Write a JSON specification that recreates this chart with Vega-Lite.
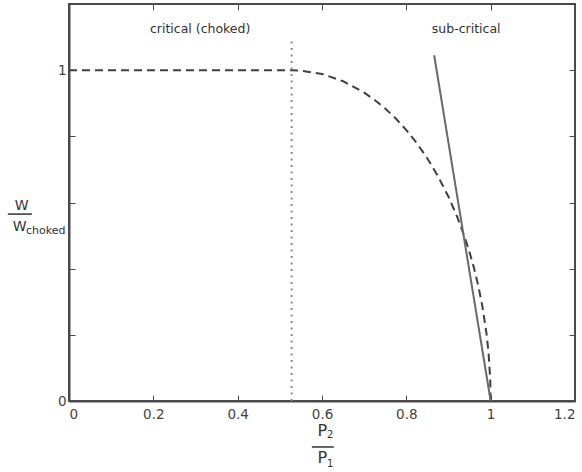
{
  "$schema": "https://vega.github.io/schema/vega-lite/v6.json",
  "autosize": {"type": "none"},
  "width": 506,
  "height": 397,
  "padding": {"left": 69, "top": 4, "right": 7, "bottom": 71},
  "background": "white",
  "config": {
    "view": {"stroke": "#4a4a4a", "strokeWidth": 2},
    "axis": {
      "grid": false,
      "domainColor": "#4a4a4a",
      "domainWidth": 2,
      "tickColor": "#4a4a4a",
      "tickWidth": 1,
      "tickSize": -6,
      "labelFont": "DejaVu Sans",
      "labelFontSize": 13.5,
      "labelColor": "#444444",
      "title": null
    },
    "text": {"font": "DejaVu Sans", "color": "#333333"}
  },
  "datasets": {
    "curve": [
      {"r": 0, "w": 1}, {"r": 0.528, "w": 1}, {"r": 0.55, "w": 0.9988}, {"r": 0.6, "w": 0.9887},
      {"r": 0.65, "w": 0.9667}, {"r": 0.7, "w": 0.9322}, {"r": 0.725, "w": 0.91}, {"r": 0.75, "w": 0.8839},
      {"r": 0.775, "w": 0.8538}, {"r": 0.8, "w": 0.8189}, {"r": 0.825, "w": 0.779}, {"r": 0.85, "w": 0.733},
      {"r": 0.875, "w": 0.6796}, {"r": 0.9, "w": 0.6173}, {"r": 0.92, "w": 0.5586}, {"r": 0.94, "w": 0.4895},
      {"r": 0.95, "w": 0.4493}, {"r": 0.96, "w": 0.4041}, {"r": 0.97, "w": 0.352}, {"r": 0.98, "w": 0.2889},
      {"r": 0.99, "w": 0.2052}, {"r": 0.995, "w": 0.1456}, {"r": 0.999, "w": 0.0653}, {"r": 1.0, "w": 0}
    ],
    "subcrit": [{"r": 0.866, "w": 1.045}, {"r": 1.0, "w": 0}],
    "critical": [{"r": 0.528, "w0": 0, "w1": 1.1}],
    "notes": [
      {"label": "critical (choked)", "r": 0.311, "w": 1.125},
      {"label": "sub-critical", "r": 0.942, "w": 1.125}
    ],
    "bigLetters": [
      {"label": "W", "r": -0.112, "w": 0.589},
      {"label": "W", "r": -0.117, "w": 0.526}
    ],
    "pLetters": [
      {"label": "P", "r": 0.601, "w": -0.0907},
      {"label": "P", "r": 0.601, "w": -0.171}
    ],
    "subs": [
      {"label": "2", "r": 0.612, "w": -0.104},
      {"label": "1", "r": 0.612, "w": -0.19}
    ],
    "chokedSub": [{"label": "choked", "r": -0.102, "w": 0.514}],
    "bars": [
      {"r0": -0.145, "r1": -0.088, "w": 0.565},
      {"r0": 0.576, "r1": 0.628, "w": -0.139}
    ]
  },
  "resolve": {"axis": {"x": "independent", "y": "independent"}},
  "layer": [
    {
      "data": {"name": "curve"},
      "mark": {"type": "line", "color": "#404040", "strokeWidth": 2, "strokeDash": [8, 5]},
      "encoding": {
        "x": {"field": "r", "type": "quantitative", "scale": {"domain": [0, 1.2], "nice": false, "zero": false},
              "axis": {"orient": "bottom", "values": [0, 0.2, 0.4, 0.6, 0.8, 1, 1.2], "format": ".1~f", "labelPadding": 12}},
        "y": {"field": "w", "type": "quantitative", "scale": {"domain": [0, 1.2], "nice": false, "zero": false},
              "axis": {"orient": "left", "values": [0, 0.2, 0.4, 0.6, 0.8, 1, 1.2], "labelExpr": "datum.value == 0 ? '0' : datum.value == 1 ? '1' : ''", "labelPadding": 9}}
      }
    },
    {
      "data": {"name": "subcrit"},
      "mark": {"type": "line", "color": "#6a6a6a", "strokeWidth": 2},
      "encoding": {
        "x": {"field": "r", "type": "quantitative",
              "axis": {"orient": "top", "values": [0, 0.2, 0.4, 0.6, 0.8, 1, 1.2], "labels": false, "domain": false}},
        "y": {"field": "w", "type": "quantitative",
              "axis": {"orient": "right", "values": [0, 0.2, 0.4, 0.6, 0.8, 1, 1.2], "labels": false, "domain": false}}
      }
    },
    {
      "data": {"name": "critical"},
      "mark": {"type": "rule", "color": "#8a8a8a", "strokeWidth": 2, "strokeDash": [2, 4.5]},
      "encoding": {
        "x": {"field": "r", "type": "quantitative", "axis": null},
        "y": {"field": "w0", "type": "quantitative", "axis": null},
        "y2": {"field": "w1"}
      }
    },
    {
      "data": {"name": "notes"},
      "mark": {"type": "text", "fontSize": 12.5, "align": "center", "baseline": "middle"},
      "encoding": {
        "x": {"field": "r", "type": "quantitative", "axis": null},
        "y": {"field": "w", "type": "quantitative", "axis": null},
        "text": {"field": "label"}
      }
    },
    {
      "data": {"name": "bigLetters"},
      "mark": {"type": "text", "fontSize": 14, "align": "center", "baseline": "middle"},
      "encoding": {
        "x": {"field": "r", "type": "quantitative", "axis": null},
        "y": {"field": "w", "type": "quantitative", "axis": null},
        "text": {"field": "label"}
      }
    },
    {
      "data": {"name": "chokedSub"},
      "mark": {"type": "text", "fontSize": 11, "align": "left", "baseline": "middle"},
      "encoding": {
        "x": {"field": "r", "type": "quantitative", "axis": null},
        "y": {"field": "w", "type": "quantitative", "axis": null},
        "text": {"field": "label"}
      }
    },
    {
      "data": {"name": "pLetters"},
      "mark": {"type": "text", "fontSize": 16, "align": "center", "baseline": "middle"},
      "encoding": {
        "x": {"field": "r", "type": "quantitative", "axis": null},
        "y": {"field": "w", "type": "quantitative", "axis": null},
        "text": {"field": "label"}
      }
    },
    {
      "data": {"name": "subs"},
      "mark": {"type": "text", "fontSize": 10, "align": "left", "baseline": "middle"},
      "encoding": {
        "x": {"field": "r", "type": "quantitative", "axis": null},
        "y": {"field": "w", "type": "quantitative", "axis": null},
        "text": {"field": "label"}
      }
    },
    {
      "data": {"name": "bars"},
      "mark": {"type": "rule", "color": "#333333", "strokeWidth": 1.5},
      "encoding": {
        "x": {"field": "r0", "type": "quantitative", "axis": null},
        "x2": {"field": "r1"},
        "y": {"field": "w", "type": "quantitative", "axis": null}
      }
    }
  ]
}
